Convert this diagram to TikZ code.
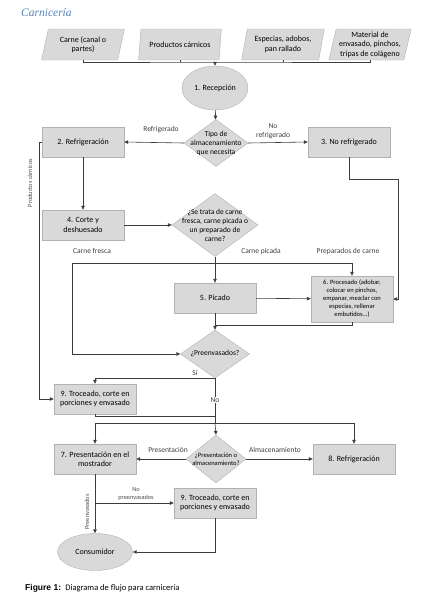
\documentclass[tikz,border=0pt]{standalone}
\usepackage{fontspec}
\setmainfont{Carlito}
\newfontfamily\titlefont{Liberation Serif}
\newfontfamily\capfont{Liberation Sans}
\usepackage{xcolor}
\usetikzlibrary{arrows.meta, shapes.geometric, positioning, calc}
\definecolor{boxfill}{HTML}{D9D9D9}
\definecolor{boxline}{HTML}{B2B2B2}
\definecolor{flowline}{HTML}{3C3C3C}
\definecolor{titleblue}{HTML}{4F81BD}

\begin{document}
\begin{tikzpicture}[
  x=1pt, y=-1pt,
  inbox/.style  = {trapezium, trapezium left angle=76, trapezium right angle=104,
                   trapezium stretches=true, draw=boxline, fill=boxfill,
                   minimum width=83pt, minimum height=31pt, inner sep=1pt,
                   align=center, font=\fontsize{8}{9.5}\selectfont},
  proc/.style   = {rectangle, draw=boxline, fill=boxfill,
                   minimum width=82pt, minimum height=30pt, inner sep=2pt,
                   align=center, font=\fontsize{8}{9.5}\selectfont},
  term/.style   = {ellipse, draw=boxline, fill=boxfill, inner sep=0pt,
                   font=\fontsize{8}{9.5}\selectfont},
  dec/.style    = {diamond, draw=boxline, fill=boxfill, inner sep=0pt},
  dtxt/.style   = {align=center, inner sep=0pt, font=\fontsize{7.5}{9}\selectfont},
  arr/.style    = {-{Triangle[length=4pt, width=3.5pt]}, draw=flowline, line width=0.6pt},
  ln/.style     = {draw=flowline, line width=0.6pt},
  lbl/.style    = {font=\fontsize{7.5}{9}\selectfont, text=black!75, align=center, inner sep=1pt},
  slbl/.style   = {font=\fontsize{6.3}{7.5}\selectfont, text=black!70, align=center, inner sep=1pt},
]
\useasboundingbox (0,0) rectangle (429,600);

%% ── Title ───────────────────────────────────────────────────────────────
\node[anchor=west, inner sep=0pt, text=titleblue,
      font=\titlefont\itshape\fontsize{11.5}{13}\selectfont] (title) at (21,13) {Carnicería};

%% ── Inputs ──────────────────────────────────────────────────────────────
\node[inbox] (carne)  at (83,44.5)  {Carne (canal o\\partes)};
\node[inbox] (prod)   at (180,44.5) {Productos cárnicos};
\node[inbox] (espec)  at (283,44.5) {Especias, adobos,\\pan rallado};
\node[inbox] (mater)  at (370,44.5) {Material de\\envasado, pinchos,\\tripas de colágeno};
\coordinate (bus) at (215,62);

%% ── Reception and storage type ──────────────────────────────────────────
\node[term, minimum width=66pt, minimum height=44pt] (recep) at (215,88) {1. Recepción};
\node[dec, minimum width=64pt, minimum height=47pt] (tipo) at (216,143) {};
\node[dtxt] at (tipo) {Tipo de\\almacenamiento\\que necesita};
\node[proc] (refr)   at (83,142)  {2. Refrigeración};
\node[proc] (norefr) at (349,142) {3. No refrigerado};

%% ── Cutting and product kind ────────────────────────────────────────────
\node[proc] (corte) at (83,225) {4. Corte y\\deshuesado};
\node[dec, minimum width=86pt, minimum height=63pt] (trata) at (215,225) {};
\node[dtxt] at (trata) {¿Se trata de carne\\fresca, carne picada o\\un preparado de\\carne?};
\coordinate (split) at (215,263);
\coordinate (fresc) at (72,263);
\coordinate (nrturn) at (398,179);

\node[proc] (picado) at (215,298) {5. Picado};
\node[proc, minimum width=82pt, minimum height=46pt,
      font=\fontsize{6.5}{8}\selectfont] (proces) at (352,299)
      {6. Procesado (adobar,\\colocar en pinchos,\\empanar, mezclar con\\especias, rellenar\\embutidos...)};
\coordinate (merge) at (215,325);

%% ── Packaging ───────────────────────────────────────────────────────────
\node[dec, minimum width=69pt, minimum height=48pt] (preenv) at (215,354) {};
\node[dtxt] at (preenv) {¿Preenvasados?};
\node[proc] (troc1) at (95,399) {9. Troceado, corte en\\porciones y envasado};
\coordinate (pcturn) at (39,142);
\coordinate (join) at (215,416);
\coordinate (dist) at (215,423);

%% ── Presentation or storage ─────────────────────────────────────────────
\node[proc] (pres) at (95,459) {7. Presentación en el\\mostrador};
\node[dec, minimum width=60pt, minimum height=48pt] (alm) at (216,459) {};
\node[dtxt, font=\fontsize{6.5}{8}\selectfont] at (alm) {¿Presentación o\\almacenamiento?};
\node[proc] (refr2) at (354,459) {8. Refrigeración};

%% ── Consumer ────────────────────────────────────────────────────────────
\node[proc] (troc2) at (215,503) {9. Troceado, corte en\\porciones y envasado};
\coordinate (npturn) at (95,503);
\node[term, minimum width=75pt, minimum height=37pt] (cons) at (95,552) {Consumidor};

%% ── Arrows ──────────────────────────────────────────────────────────────
\draw[ln]  (carne.south) |- (bus) -| (mater.south);
\draw[ln]  (prod.south)  -- (prod.south |- bus);
\draw[ln]  (espec.south) -- (espec.south |- bus);
\draw[arr] (bus) -- (recep);
\draw[arr] (recep) -- (tipo);
\draw[arr] (tipo.west) -- (refr.east);
\draw[arr] (tipo.east) -- (norefr.west);
\draw[arr] (refr) -- (corte);
\draw[arr] (corte) -- (trata.west);
\draw[arr] (norefr.south) |- (nrturn) |- (proces.east);
\draw[arr] (trata.south) -- (picado.north);
\draw[arr] (split) -- (fresc) |- (preenv.west);
\draw[arr] (split) -| (proces.north);
\draw[arr] (picado) -- (proces);
\draw[arr] (picado.south) -- (preenv.north);
\draw[ln]  (proces.south) |- (merge);
\draw[arr] (refr.west) -- (pcturn) |- (troc1.west);
\draw[arr] (preenv.south) -| (troc1.north);
\draw[ln]  (preenv.south) -- (dist);
\draw[ln]  (troc1.south) |- (join);
\draw[arr] (dist) -| (pres.north);
\draw[arr] (dist) -| (refr2.north);
\draw[arr] (dist) -- (alm.north);
\draw[arr] (alm.west) -- (pres.east);
\draw[arr] (alm.east) -- (refr2.west);
\draw[arr] (pres.south) -- (cons.north);
\draw[arr] (npturn) -- (troc2.west);
\draw[arr] (troc2.south) |- (cons.east);

%% ── Labels ──────────────────────────────────────────────────────────────
\node[lbl] at (161,130) {Refrigerado};
\node[lbl] at (273,131) {No\\refrigerado};
\node[lbl] at (92,251)  {Carne fresca};
\node[lbl] at (261,251) {Carne picada};
\node[lbl] at (348,251) {Preparados de carne};
\node[slbl, rotate=90] at (30,183) {Productos cárnicos};
\node[lbl] at (195,373) {Sí};
\node[lbl, fill=white] at (215,400) {No};
\node[lbl] at (168,450) {Presentación};
\node[lbl] at (275,450) {Almacenamiento};
\node[slbl] at (136,494) {No\\preenvasados};
\node[slbl, rotate=90] at (87,512) {Preenvasados};

%% ── Caption ─────────────────────────────────────────────────────────────
\node[anchor=west, inner sep=0pt, font=\fontsize{8.5}{10}\selectfont] (cap) at (25,588)
  {{\capfont\bfseries Figure 1:}\enspace Diagrama de flujo para carnicería};

\end{tikzpicture}
\end{document}
